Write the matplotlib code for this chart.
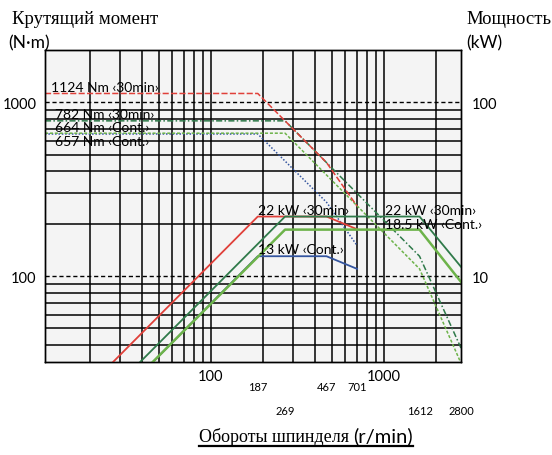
import matplotlib
matplotlib.use("Agg")
import matplotlib.pyplot as plt
from matplotlib.ticker import LogLocator, NullFormatter
from matplotlib.lines import Line2D
import matplotlib.transforms as mtransforms

# ---------------- data ----------------
x_limits = [11, 2800]
torque_limits = [32, 2000]
power_limits = [3.2, 200]

# torque curves (N·m) vs spindle speed (r/min)
red_t_rpm = [11, 187, 467, 701]
red_t_nm = [1124, 1124, 450, 253]
blue_t_rpm = [11, 187, 467, 701]
blue_t_nm = [657, 657, 266, 150]
dkg_t_rpm = [11, 269, 1612, 2800]
dkg_t_nm = [782, 782, 130, 38.5]
ltg_t_rpm = [11, 269, 1612, 2800]
ltg_t_nm = [664, 664, 110, 31.5]

# power curves (kW) vs spindle speed (r/min)
red_p_rpm = [20, 187, 467, 701]
red_p_kw = [2.35, 22, 22, 18.6]
blue_p_rpm = [20, 187, 467, 701]
blue_p_kw = [1.38, 13, 13, 11]
dkg_p_rpm = [20, 269, 1612, 2800]
dkg_p_kw = [1.64, 22, 22, 11.3]
ltg_p_rpm = [20, 269, 1612, 2800]
ltg_p_kw = [1.39, 18.5, 18.5, 9.25]

speed_marks_row1 = [187, 467, 701]
speed_marks_row2 = [269, 1612, 2800]

torque_labels = ["1124 Nm ‹30min›", "782 Nm ‹30min›", "664 Nm ‹Cont.›", "657 Nm ‹Cont.›"]
power_labels = ["22 kW ‹30min›", "13 kW ‹Cont.›", "22 kW ‹30min›", "18.5 kW ‹Cont.›"]

# ---------------- style ----------------
RED = "#e0403a"
BLUE = "#34559f"
DKG = "#2f7a4a"
LTG = "#6db34a"
SANS = ["Lato", "DejaVu Sans"]
SERIF = ["Liberation Serif", "DejaVu Serif"]

fig = plt.figure(figsize=(5.52, 4.56), dpi=100)
ax = fig.add_axes([45/552, 1-363/456, (461-45)/552, (363-51)/456])
ax.set_xscale("log")
ax.set_yscale("log")
ax.set_xlim(*x_limits)
ax.set_ylim(*torque_limits)
ax.set_facecolor("#f4f4f4")

ax2 = ax.twinx()
ax2.set_yscale("log")
ax2.set_ylim(*power_limits)

# grid
ax.xaxis.set_minor_locator(LogLocator(base=10, subs=range(2, 10)))
ax.yaxis.set_minor_locator(LogLocator(base=10, subs=range(2, 10)))
ax.xaxis.set_minor_formatter(NullFormatter())
ax.yaxis.set_minor_formatter(NullFormatter())
ax.xaxis.grid(True, which="both", color="black", lw=1.1, ls="-")
ax.yaxis.grid(True, which="minor", color="black", lw=1.1, ls="-")
ax.yaxis.grid(True, which="major", color="black", lw=1.0, ls=(0, (3, 2)))
ax.set_axisbelow(True)

ax.tick_params(which="both", length=0)
ax.set_xticks([100, 1000])
ax.set_xticklabels(["100", "1000"], fontfamily=SANS, fontsize=10.5)
ax.set_yticks([100, 1000])
ax.set_yticklabels(["100", "1000"], fontfamily=SANS, fontsize=10.5)
ax.tick_params(axis="x", pad=5)
ax.tick_params(axis="y", pad=6)

ax2.yaxis.set_minor_locator(LogLocator(base=10, subs=range(2, 10)))
ax2.yaxis.set_minor_formatter(NullFormatter())
ax2.set_yticks([10, 100])
ax2.set_yticklabels(["10", "100"], fontfamily=SANS, fontsize=10.5)
ax2.tick_params(which="both", length=0, pad=8)
for s in list(ax.spines.values()) + list(ax2.spines.values()):
    s.set_color("black")
    s.set_linewidth(1.0)

# torque curves
ax.plot(blue_t_rpm, blue_t_nm, color=BLUE, lw=1.1, ls=(0, (1, 1.2)))
ax.plot(ltg_t_rpm, ltg_t_nm, color=LTG, lw=1.1, ls=(0, (2, 1.2)))
ax.plot(dkg_t_rpm, dkg_t_nm, color=DKG, lw=1.1, ls=(0, (4, 1.5, 1, 1.5)))
ax.plot(red_t_rpm, red_t_nm, color=RED, lw=1.1, ls=(0, (4, 1.5)))

# power curves
ax2.plot(blue_p_rpm, blue_p_kw, color=BLUE, lw=1.3)
ax2.plot(red_p_rpm, red_p_kw, color=RED, lw=1.3)
ax2.plot(dkg_p_rpm, dkg_p_kw, color=DKG, lw=1.3)
ax2.plot(ltg_p_rpm, ltg_p_kw, color=LTG, lw=1.8)

# torque labels
fs = 10
ax.text(11.9, red_t_nm[0] * 1.01, torque_labels[0], fontfamily=SANS, fontsize=fs, va="bottom", ha="left")
ax.text(12.6, dkg_t_nm[0] * 1.01, torque_labels[1], fontfamily=SANS, fontsize=fs, va="bottom", ha="left")
ax.text(12.6, ltg_t_nm[0] * 1.005, torque_labels[2], fontfamily=SANS, fontsize=fs, va="bottom", ha="left")
ax.text(12.6, blue_t_nm[0] * 0.99, torque_labels[3], fontfamily=SANS, fontsize=fs, va="top", ha="left")

# power labels
ax2.text(187, 22 * 1.01, power_labels[0], fontfamily=SANS, fontsize=fs, va="bottom", ha="left")
ax2.text(187, 13 * 1.01, power_labels[1], fontfamily=SANS, fontsize=fs, va="bottom", ha="left")
ax2.text(1020, 22 * 1.01, power_labels[2], fontfamily=SANS, fontsize=fs, va="bottom", ha="left", clip_on=False)
ax2.text(1020, 18.5 * 1.0, power_labels[3], fontfamily=SANS, fontsize=fs, va="bottom", ha="left", clip_on=False)

# special speed marks
trans = mtransforms.blended_transform_factory(ax.transData, ax.transAxes)
for v in speed_marks_row1:
    ax.text(v, -25/312, str(v), transform=trans, fontfamily=SANS, fontsize=8, ha="center", va="center")
for v in speed_marks_row2:
    ax.text(v, -49/312, str(v), transform=trans, fontfamily=SANS, fontsize=8, ha="center", va="center")

# axis titles
fig.text(12/552, 1-20/456, "Крутящий момент", fontfamily=SERIF, fontsize=13.5, ha="left", va="center")
fig.text(8/552, 1-43/456, "(N·m)", fontfamily=SANS, fontsize=12.5, ha="left", va="center")
fig.text(466/552, 1-20/456, "Мощность", fontfamily=SERIF, fontsize=13.5, ha="left", va="center")
fig.text(466/552, 1-43/456, "(kW)", fontfamily=SANS, fontsize=12.5, ha="left", va="center")

t1 = fig.text(199/552, 1-442/456, "Обороты шпинделя ", fontfamily=SERIF, fontsize=13, ha="left", va="baseline")
fig.canvas.draw()
r = fig.canvas.get_renderer()
bb1 = t1.get_window_extent(r)
t2 = fig.text(bb1.x1/552, 1-442/456, "(r/min)", fontfamily=SANS, fontsize=14.5, ha="left", va="baseline")
bb2 = t2.get_window_extent(r)
fig.add_artist(Line2D([bb1.x0/552, bb2.x1/552], [1-447/456, 1-447/456], color="black", lw=1.6))

fig.savefig("out.png", dpi=100)
